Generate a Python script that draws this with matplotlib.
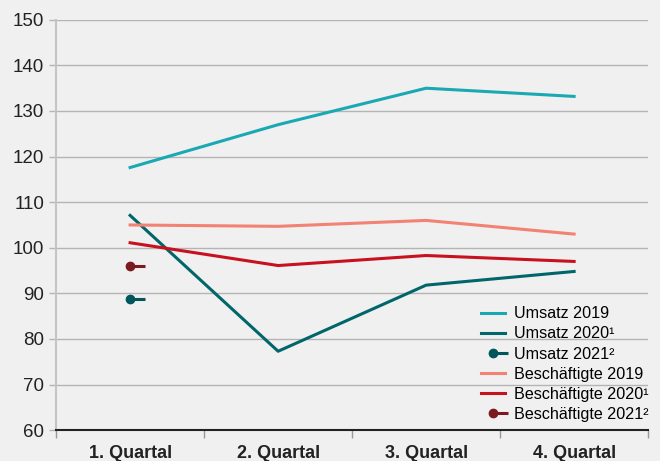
import numpy as np
import matplotlib.pyplot as plt
from matplotlib.path import Path
from matplotlib.legend_handler import HandlerTuple

quarters = ["1. Quartal", "2. Quartal", "3. Quartal", "4. Quartal"]
umsatz_2019 = [117.6, 127.0, 135.0, 133.2]
umsatz_2020 = [107.1, 77.3, 91.8, 94.8]
umsatz_2021 = [88.8]
besch_2019 = [105.0, 104.7, 106.0, 103.0]
besch_2020 = [101.1, 96.1, 98.3, 97.0]
besch_2021 = [96.0]

plt.rcParams["font.family"] = ["Liberation Sans", "DejaVu Sans"]

bg = "#f0f0f0"
fig = plt.figure(figsize=(6.6, 4.61), dpi=100, facecolor=bg)
ax = fig.add_axes([0.085, 0.067, 0.897, 0.89], facecolor=bg)

x = np.arange(len(quarters))
lw = 2.2
ax.plot(x, umsatz_2019, color="#1aa9b2", lw=lw, label="Umsatz 2019")
ax.plot(x, umsatz_2020, color="#00666a", lw=lw, label="Umsatz 2020\u00b9")

# short tail marker for single-point series
tail = Path([(0, 0), (1, 0)], [Path.MOVETO, Path.LINETO])

def single(vals, color, label):
    h1, = ax.plot(x[:len(vals)], vals, ls="none", marker="o", ms=6, color=color)
    h2, = ax.plot(x[:len(vals)], vals, ls="none", marker=tail, ms=22, mew=lw, color=color)
    return (h1, h2), label

u21 = single(umsatz_2021, "#00565a", "Umsatz 2021\u00b2")
ax.plot(x, besch_2019, color="#f28273", lw=lw, label="Besch\u00e4ftigte 2019")
ax.plot(x, besch_2020, color="#c8111e", lw=lw, label="Besch\u00e4ftigte 2020\u00b9")
b21 = single(besch_2021, "#7b1b20", "Besch\u00e4ftigte 2021\u00b2")

h, l = ax.get_legend_handles_labels()
handles = [h[0], h[1], u21[0], h[2], h[3], b21[0]]
labels = [l[0], l[1], u21[1], l[2], l[3], b21[1]]
ax.legend(handles, labels, loc="lower right", frameon=False, fontsize=11.6,
          handlelength=1.5, handletextpad=0.55, labelspacing=0.32,
          borderaxespad=0.0, bbox_to_anchor=(1.012, 0.004),
          handler_map={tuple: HandlerTuple(ndivide=1)})

ax.set_xlim(-0.5, 3.5)
ax.set_ylim(60, 150)
ax.set_yticks(np.arange(60, 151, 10))
ax.grid(axis="y", color="#b4b4b4", lw=1.0)
ax.set_axisbelow(True)
ax.tick_params(axis="y", length=5, width=1.0, labelsize=13.5, labelcolor="#222222", color="#b4b4b4")

ax.set_xticks(np.arange(-0.5, 4, 1.0))
ax.set_xticklabels([])
ax.set_xticks(x, minor=True)
ax.set_xticklabels(quarters, minor=True, fontsize=13, fontweight="bold", color="#222222")
ax.tick_params(axis="x", which="major", length=6, color="#999999", width=1.0)
ax.tick_params(axis="x", which="minor", length=0, pad=11)

for s in ["top", "right"]:
    ax.spines[s].set_visible(False)
ax.spines["left"].set_color("#c4c4c4")
ax.spines["left"].set_linewidth(1.5)
ax.spines["bottom"].set_color("#222222")
ax.spines["bottom"].set_linewidth(1.5)

fig.savefig("out.png", dpi=100, facecolor=bg)
